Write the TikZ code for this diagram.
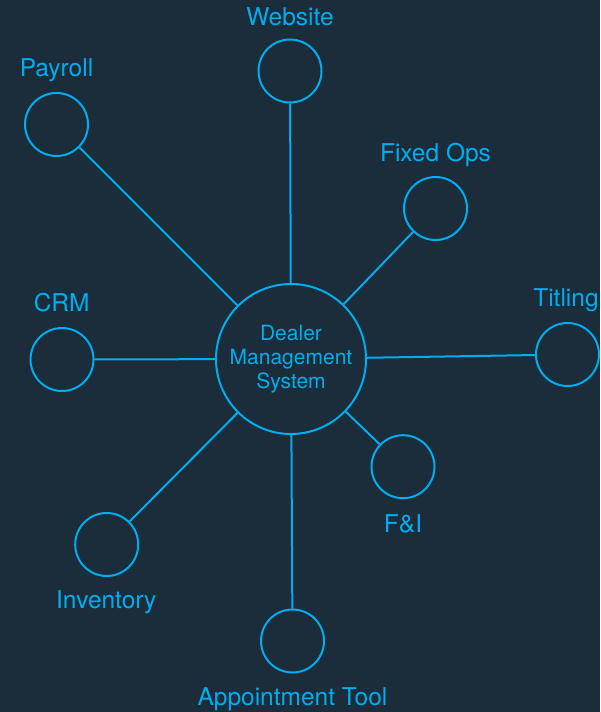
\documentclass[tikz,border=0pt]{standalone}
\usepackage{fontspec}
\setmainfont{TeX Gyre Heros}
\usetikzlibrary{positioning}
\definecolor{DMSNavy}{RGB}{27,44,58}
\definecolor{DMSCyan}{RGB}{0,174,239}

\begin{document}
\begin{tikzpicture}[x=1pt,y=-1pt,
    hub/.style={circle,draw=DMSCyan,line width=2pt,minimum size=150pt,inner sep=0pt,
      align=center,text=DMSCyan,font=\fontsize{21}{24}\selectfont},
    sat/.style={circle,draw=DMSCyan,line width=2pt,minimum size=63pt,inner sep=0pt},
    lbl/.style={anchor=base,text=DMSCyan,inner sep=0pt,font=\fontsize{24.5}{28}\selectfont},
    spoke/.style={draw=DMSCyan,line width=2pt}]
  \fill[DMSNavy] (0,0) rectangle (600,712);
  \useasboundingbox (0,0) rectangle (600,712);
  % centre
  \node[hub] (dms) at (291,359) {Dealer\\Management\\System};
  % satellites
  \node[sat] (website) at (290,71) {};
  \node[sat] (payroll) at (56.5,124.5) {};
  \node[sat] (fixedops) at (435.5,208.5) {};
  \node[sat] (crm) at (62,359.5) {};
  \node[sat] (titling) at (567.5,354.5) {};
  \node[sat] (fni) at (403,466.7) {};
  \node[sat] (inventory) at (106.7,544.5) {};
  \node[sat] (appt) at (292.5,641) {};
  % labels
  \node[lbl] (websitelbl) at (290,25) {Website};
  \node[lbl] (payrolllbl) at (56.5,76) {Payroll};
  \node[lbl] (fixedopslbl) at (435.5,161.7) {Fixed Ops};
  \node[lbl] (crmlbl) at (61.7,311.7) {CRM};
  \node[lbl] (titlinglbl) at (566,306.7) {Titling};
  \node[lbl] (fnilbl) at (403,532.3) {F\&I};
  \node[lbl] (inventorylbl) at (106.3,608.3) {Inventory};
  \node[lbl] (apptlbl) at (292.5,705) {Appointment Tool};
  % spokes
  \foreach \s in {website,payroll,fixedops,crm,titling,fni,inventory,appt} {
    \draw[spoke] (dms) -- (\s);
  }
\end{tikzpicture}
\end{document}
